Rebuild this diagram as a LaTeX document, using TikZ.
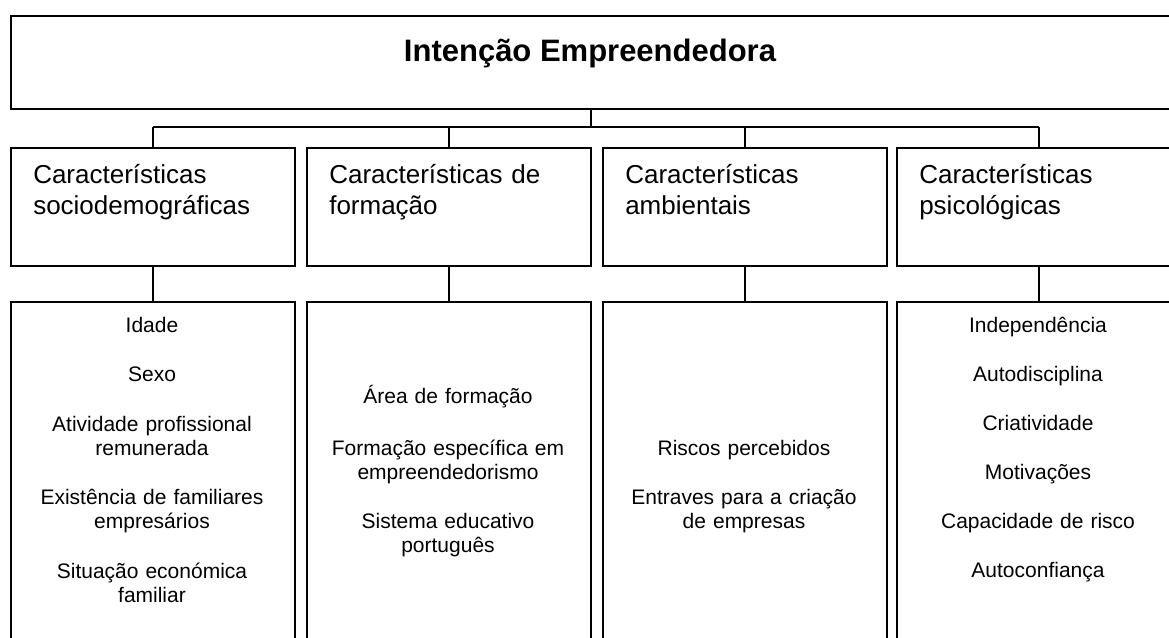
\documentclass[tikz,border=0pt]{standalone}
\usepackage{fontspec}
\setmainfont{Liberation Sans}
\begin{document}
\begin{tikzpicture}[x=0.75pt,y=-0.75pt,
  box/.style={draw, line width=1.4pt, inner sep=0pt, anchor=north west},
  topbox/.style={box, minimum width=870pt, minimum height=69.75pt},
  catbox/.style={box, minimum width=213pt, minimum height=88.5pt},
  detbox/.style={box, minimum width=213pt, minimum height=300pt},
  wire/.style={line width=1.4pt},
  titletext/.style={anchor=base, inner sep=0pt, font=\fontsize{23.25pt}{27pt}\selectfont\bfseries},
  cattext/.style={anchor=base west, inner sep=0pt, text width=190pt, align=left, font=\fontsize{19.5pt}{23.25pt}\selectfont},
  itemtext/.style={anchor=base, inner sep=0pt, text width=200pt, align=center, font=\fontsize{15.75pt}{18pt}\selectfont}
]
\useasboundingbox (0,0) rectangle (1169,637);
\clip (0,0) rectangle (1169,637);
\fill[white] (0,0) rectangle (1169,637);

% boxes
\node[topbox] (top) at (10,15) {};
\node[catbox] (c1) at (10,147) {};
\node[catbox] (c2) at (306,147) {};
\node[catbox] (c3) at (602,147) {};
\node[catbox] (c4) at (896,147) {};
\node[detbox] (d1) at (10,301) {};
\node[detbox] (d2) at (306,301) {};
\node[detbox] (d3) at (602,301) {};
\node[detbox] (d4) at (896,301) {};

% connectors
\coordinate (bus) at (0,127);
\draw[wire] (top.south) -- (top.south |- bus);
\draw[wire] (c1.north |- bus) -- (c4.north |- bus);
\foreach \i in {1,2,3,4} {
  \draw[wire] (c\i.north |- bus) -- (c\i.north);
  \draw[wire] (c\i.south) -- (d\i.north);
}

% title
\node[titletext] (title) at (590,61) {Intenção Empreendedora};

% category labels
\node[cattext] (t1) at (33,183) {Características\\sociodemográficas};
\node[cattext] (t2) at (329,183) {Características de\\formação};
\node[cattext] (t3) at (625,183) {Características\\ambientais};
\node[cattext] (t4) at (919,183) {Características\\psicológicas};

% column 1
\node[itemtext] (a1) at (152,332) {Idade};
\node[itemtext] (a2) at (152,381.5) {Sexo};
\node[itemtext] (a3) at (152,431) {Atividade profissional\\remunerada};
\node[itemtext] (a4) at (152,504.5) {Existência de familiares\\empresários};
\node[itemtext] (a5) at (152,578) {Situação económica\\familiar};

% column 2
\node[itemtext] (b1) at (448,403) {Área de formação};
\node[itemtext] (b2) at (448,455) {Formação específica em\\empreendedorismo};
\node[itemtext] (b3) at (448,528) {Sistema educativo\\português};

% column 3
\node[itemtext] (e1) at (744,455) {Riscos percebidos};
\node[itemtext] (e2) at (744,504) {Entraves para a criação\\de empresas};

% column 4
\node[itemtext] (f1) at (1038,332) {Independência};
\node[itemtext] (f2) at (1038,381) {Autodisciplina};
\node[itemtext] (f3) at (1038,430) {Criatividade};
\node[itemtext] (f4) at (1038,479) {Motivações};
\node[itemtext] (f5) at (1038,528) {Capacidade de risco};
\node[itemtext] (f6) at (1038,577) {Autoconfiança};
\end{tikzpicture}
\end{document}
